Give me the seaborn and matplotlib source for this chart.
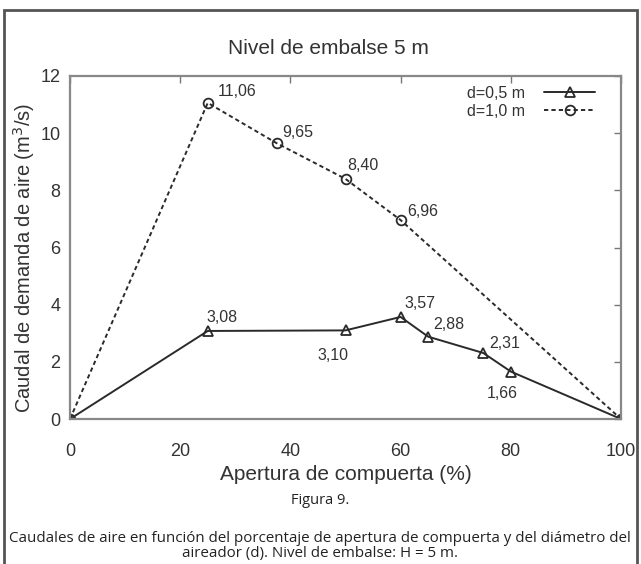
import matplotlib
matplotlib.use("Agg")
import matplotlib.pyplot as plt
import seaborn as sns
import pandas as pd
from matplotlib.patches import Rectangle

# ---- data ----
apertura_05 = [0, 25, 50, 60, 65, 75, 80, 100]
caudal_05 = [0, 3.08, 3.10, 3.57, 2.88, 2.31, 1.66, 0]
labels_05 = ["", "3,08", "3,10", "3,57", "2,88", "2,31", "1,66", ""]

apertura_10 = [0, 25, 37.5, 50, 60, 100]
caudal_10 = [0, 11.06, 9.65, 8.40, 6.96, 0]
labels_10 = ["", "11,06", "9,65", "8,40", "6,96", ""]

series_names = ["d=0,5 m", "d=1,0 m"]
x_ticks = [0, 20, 40, 60, 80, 100]
y_ticks = [0, 2, 4, 6, 8, 10, 12]

df = pd.concat([
    pd.DataFrame({"x": apertura_05, "y": caudal_05, "serie": series_names[0]}),
    pd.DataFrame({"x": apertura_10, "y": caudal_10, "serie": series_names[1]}),
], ignore_index=True)

sns.set_theme(style="white")
plt.rcParams["font.family"] = ["Liberation Sans", "DejaVu Sans"]

W, H = 641, 564
fig = plt.figure(figsize=(W / 100, H / 100), dpi=100)
ax = fig.add_axes([70 / W, 1 - 419 / H, (621 - 70) / W, (419 - 76) / H])

txt = "#333333"
line_c = "#2a2a2a"

sns.lineplot(data=df, x="x", y="y", hue="serie", style="serie",
             palette={series_names[0]: line_c, series_names[1]: line_c},
             markers={series_names[0]: "^", series_names[1]: "o"},
             dashes={series_names[0]: "", series_names[1]: (2.2, 1.6)},
             sort=False, linewidth=1.4, markersize=7,
             markerfacecolor="none", markeredgewidth=1.3,
             ax=ax)

for l in ax.lines:
    l.set_markeredgecolor(line_c)
    l.set_markerfacecolor("none")

ax.set_xlim(0, 100)
ax.set_ylim(0, 12)
ax.set_xticks(x_ticks)
ax.set_yticks(y_ticks)
ax.tick_params(direction="in", length=5, width=1, color="#777777",
               top=True, right=True, labeltop=False, labelright=False,
               labelsize=13, labelcolor=txt)
ax.tick_params(axis="x", pad=17)
ax.tick_params(axis="y", pad=7)
for s in ax.spines.values():
    s.set_color("#888888")
    s.set_linewidth(1.6)

ax.set_xlabel("Apertura de compuerta (%)", fontsize=15, color=txt)
ax.set_ylabel("Caudal de demanda de aire (m$^3$/s)", fontsize=14.5, color=txt)
ax.xaxis.set_label_coords(0.5, -0.135)
ax.yaxis.set_label_coords(-0.06, 0.469)

# value annotations (offsets in points)
off_05 = {"3,08": (-1, 10, "left"), "3,10": (-9, -18, "center"), "3,57": (3, 10, "left"),
          "2,88": (4, 9, "left"), "2,31": (4, 7, "left"), "1,66": (-6, -16, "center")}
off_10 = {"11,06": (7, 8, "left"), "9,65": (4, 8, "left"), "8,40": (1, 10, "left"),
          "6,96": (5, 6, "left")}
for xs, ys, ls, offs in [(apertura_05, caudal_05, labels_05, off_05),
                         (apertura_10, caudal_10, labels_10, off_10)]:
    for xv, yv, lab in zip(xs, ys, ls):
        if not lab:
            continue
        dx, dy, ha = offs[lab]
        ax.annotate(lab, (xv, yv), xytext=(dx, dy), textcoords="offset points",
                    ha=ha, va="center", fontsize=11.5, color=txt)

leg = ax.legend(loc="upper right", bbox_to_anchor=(0.965, 0.99), frameon=False,
                markerfirst=False, fontsize=11.5, handlelength=3.2,
                handletextpad=1.2, labelspacing=0.2, borderaxespad=0)
for t in leg.get_texts():
    t.set_color(txt)

fig.text(328 / W, 1 - 48 / H, "Nivel de embalse 5 m", ha="center", va="center",
         fontsize=15, color=txt)

cap_font = ["Open Sans", "DejaVu Sans"]
fig.text(320 / W, 1 - 501 / H, "Figura 9.", ha="center", va="center",
         fontsize=10.5, color="#222222", family=cap_font)
fig.text(320 / W, 1 - 538 / H,
         "Caudales de aire en función del porcentaje de apertura de compuerta y del diámetro del",
         ha="center", va="center", fontsize=10.9, color="#222222", family=cap_font)
fig.text(320 / W, 1 - 554 / H, "aireador (d). Nivel de embalse: H = 5 m.",
         ha="center", va="center", fontsize=10.9, color="#222222", family=cap_font)

fig.patches.append(Rectangle((4 / W, -0.05), (637 - 4) / W, 1.05 - 10 / H,
                             transform=fig.transFigure, fill=False,
                             edgecolor="#555555", linewidth=2))

fig.savefig("out.png", dpi=100)
